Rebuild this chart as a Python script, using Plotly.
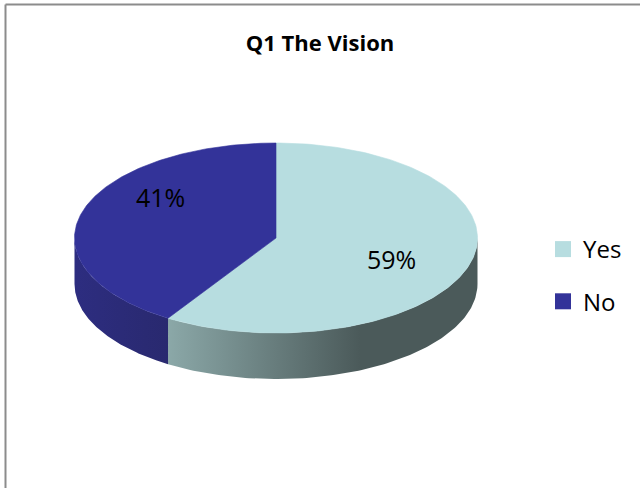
import numpy as np
import plotly.graph_objects as go

# ---- data ----
categories = ["Yes", "No"]
values = [59, 41]
title_text = "Q1 The Vision"

# ---- styling ----
top_colors = ["#b7dde0", "#333399"]
side_scales = [
    [[0, "#8ba8a8"], [0.62, "#4b5a5a"], [1, "#4b5a5a"]],
    [[0, "#2d2d80"], [1, "#29296f"]],
]
CX, CY, RX, RY, DEPTH = 276, 238, 201.5, 95, 46
label_pos = [(391, 259), (160, 197)]
FONT = "'Open Sans', Lato, sans-serif"


def ell(theta_deg, dy=0.0):
    t = np.radians(theta_deg)
    return CX + RX * np.sin(t), CY - RY * np.cos(t) + dy


total = float(sum(values))
fig = go.Figure()

# slice angle ranges (clockwise from 12 o'clock)
bounds = []
start = 0.0
for v in values:
    end = start + 360.0 * v / total
    bounds.append((start, end))
    start = end

# side faces (visible front half: 90..270 deg)
for (a0, a1), scale in zip(bounds, side_scales):
    s0, s1 = max(a0, 90.0), min(a1, 270.0)
    if s1 <= s0:
        continue
    th = np.linspace(s0, s1, 120)
    xt, yt = ell(th)
    xb, yb = ell(th[::-1], DEPTH)
    xs = np.concatenate([xt, xb, xt[:1]])
    ys = np.concatenate([yt, yb, yt[:1]])
    fig.add_trace(go.Scatter(
        x=xs, y=ys, mode="lines", fill="toself",
        line=dict(width=0), hoverinfo="skip", showlegend=False,
        fillgradient=dict(type="horizontal", colorscale=scale,
                          start=float(xs.min()), stop=float(xs.max())),
    ))

# top faces
for (a0, a1), col, name in zip(bounds, top_colors, categories):
    th = np.linspace(a0, a1, 200)
    xa, ya = ell(th)
    xs = np.concatenate([[CX], xa, [CX]])
    ys = np.concatenate([[CY], ya, [CY]])
    fig.add_trace(go.Scatter(
        x=xs, y=ys, mode="lines", fill="toself", fillcolor=col,
        line=dict(width=0.6, color=col), hoverinfo="skip", showlegend=False,
    ))

# percentage labels
for v, (lx, ly) in zip(values, label_pos):
    fig.add_annotation(x=lx, y=ly, text=f"{v / total * 100:.0f}%",
                       showarrow=False, font=dict(size=25, color="#000000", family=FONT))

# legend entries
for name, col in zip(categories, top_colors):
    fig.add_trace(go.Scatter(
        x=[None], y=[None], mode="markers", name=name, legendgroup=name,
        marker=dict(symbol="square", size=16, color=col),
    ))

fig.update_layout(
    width=640, height=488,
    margin=dict(l=0, r=0, t=0, b=0),
    paper_bgcolor="white", plot_bgcolor="white",
    title=dict(text=f"<b>{title_text}</b>", x=0.5, xanchor="center",
               y=1 - 43 / 488, yanchor="middle",
               font=dict(size=22, family=FONT, color="#000000")),
    xaxis=dict(range=[0, 640], visible=False, fixedrange=True),
    yaxis=dict(range=[488, 0], visible=False, fixedrange=True),
    showlegend=True,
    legend=dict(x=543 / 640, y=1 - 227 / 488, xanchor="left", yanchor="top",
                font=dict(size=24, family=FONT, color="#000000"),
                tracegroupgap=18, bgcolor="rgba(0,0,0,0)"),
    shapes=[
        dict(type="line", xref="paper", yref="paper", x0=5.5 / 640, x1=1.02,
             y0=1 - 4.5 / 488, y1=1 - 4.5 / 488, line=dict(color="#8c8c8c", width=2)),
        dict(type="line", xref="paper", yref="paper", x0=5.5 / 640, x1=5.5 / 640,
             y0=1 - 4.5 / 488, y1=-0.02, line=dict(color="#8c8c8c", width=2)),
    ],
)

fig.write_html("out.html", config={"displayModeBar": False},
               post_script="document.body.style.margin='0px';")
